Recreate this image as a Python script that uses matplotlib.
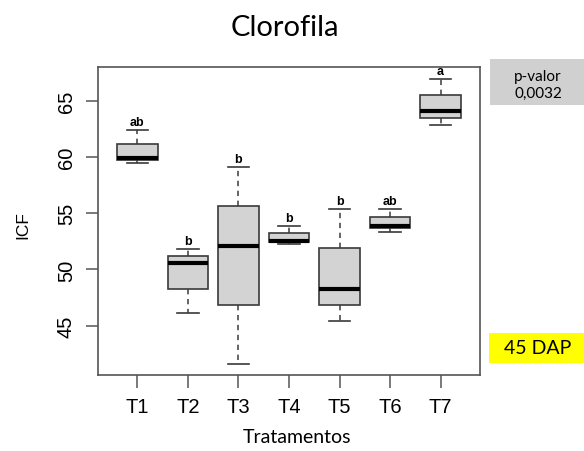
import matplotlib
matplotlib.use("Agg")
import matplotlib.pyplot as plt
from matplotlib.patches import Rectangle

tratamentos = ["T1", "T2", "T3", "T4", "T5", "T6", "T7"]

whisker_low = [59.48, 46.13, 41.63, 52.23, 45.44, 53.32, 62.80]
q1 = [59.74, 48.29, 46.81, 52.40, 46.81, 53.65, 63.50]
medians = [59.89, 50.60, 52.08, 52.52, 48.29, 53.88, 64.09]
q3 = [61.14, 51.19, 55.66, 53.20, 51.90, 54.68, 65.51]
whisker_high = [62.38, 51.81, 59.12, 53.83, 55.36, 55.36, 66.91]

letras = ["ab", "b", "b", "b", "b", "ab", "a"]

y_ticks = [45, 50, 55, 60, 65]

p_valor = "0,0032"
dap = "45 DAP"

r_font = "Liberation Sans"
office_font = "Lato"

stats = []
for i in range(len(tratamentos)):
    stats.append(
        {
            "label": tratamentos[i],
            "whislo": whisker_low[i],
            "q1": q1[i],
            "med": medians[i],
            "q3": q3[i],
            "whishi": whisker_high[i],
            "fliers": [],
        }
    )

fig = plt.figure(figsize=(5.84, 4.52), dpi=100)
ax = fig.add_axes([98 / 584, 1 - 376 / 452, 382 / 584, 308 / 452])

edge = "#3a3a3a"

ax.bxp(
    stats,
    positions=range(1, len(tratamentos) + 1),
    widths=0.8,
    patch_artist=True,
    boxprops=dict(facecolor="#d3d3d3", edgecolor=edge, linewidth=1.2),
    medianprops=dict(color="black", linewidth=3, solid_capstyle="butt"),
    whiskerprops=dict(color=edge, linewidth=1.1, linestyle=(0, (3.5, 3))),
    capprops=dict(color=edge, linewidth=1.2),
    capwidths=0.42,
)

# letras do teste de medias acima de cada caixa
for i in range(len(tratamentos)):
    ax.annotate(
        letras[i],
        (i + 1, whisker_high[i]),
        xytext=(0, 1.5),
        textcoords="offset points",
        ha="center",
        va="bottom",
        fontsize=9,
        fontweight="bold",
        family=r_font,
    )

ax.set_xlim(0.22, 7.78)
ax.set_ylim(40.62, 67.99)

ax.set_yticks(y_ticks)
ax.set_yticklabels([str(v) for v in y_ticks], rotation=90, va="center")
ax.set_xticks(range(1, len(tratamentos) + 1))
ax.set_xticklabels(tratamentos)

ax.tick_params(
    axis="both",
    length=9,
    width=1.1,
    color="#555555",
    labelsize=14.5,
    labelfontfamily=r_font,
    pad=7,
)

for side in ax.spines.values():
    side.set_color("#555555")
    side.set_linewidth(1.2)

fig.text(0.487, 1 - 28 / 452, "Clorofila", ha="center", va="center",
         fontsize=21, family=office_font)

fig.text(23 / 584, 1 - 225 / 452, "ICF", ha="center", va="center",
         rotation=90, fontsize=12.5, family=r_font)

fig.text(297 / 584, 1 - 438 / 452, "Tratamentos", ha="center", va="center",
         fontsize=14, family=office_font)

fig.patches.append(
    Rectangle((490 / 584, 1 - 106 / 452), 94 / 584, 46 / 452,
              transform=fig.transFigure, facecolor="#d0d0d0",
              edgecolor="none")
)
fig.text(538 / 584, 1 - 77 / 452, "p-valor", ha="center", va="center",
         fontsize=11, family=office_font)
fig.text(538 / 584, 1 - 94 / 452, p_valor, ha="center", va="center",
         fontsize=11, family=office_font)

fig.patches.append(
    Rectangle((489 / 584, 1 - 364 / 452), 95 / 584, 30 / 452,
              transform=fig.transFigure, facecolor="#ffff00",
              edgecolor="none")
)
fig.text(538 / 584, 1 - 349 / 452, dap, ha="center", va="center",
         fontsize=14, family=office_font)

fig.savefig("out.png", dpi=100)
plt.close()
